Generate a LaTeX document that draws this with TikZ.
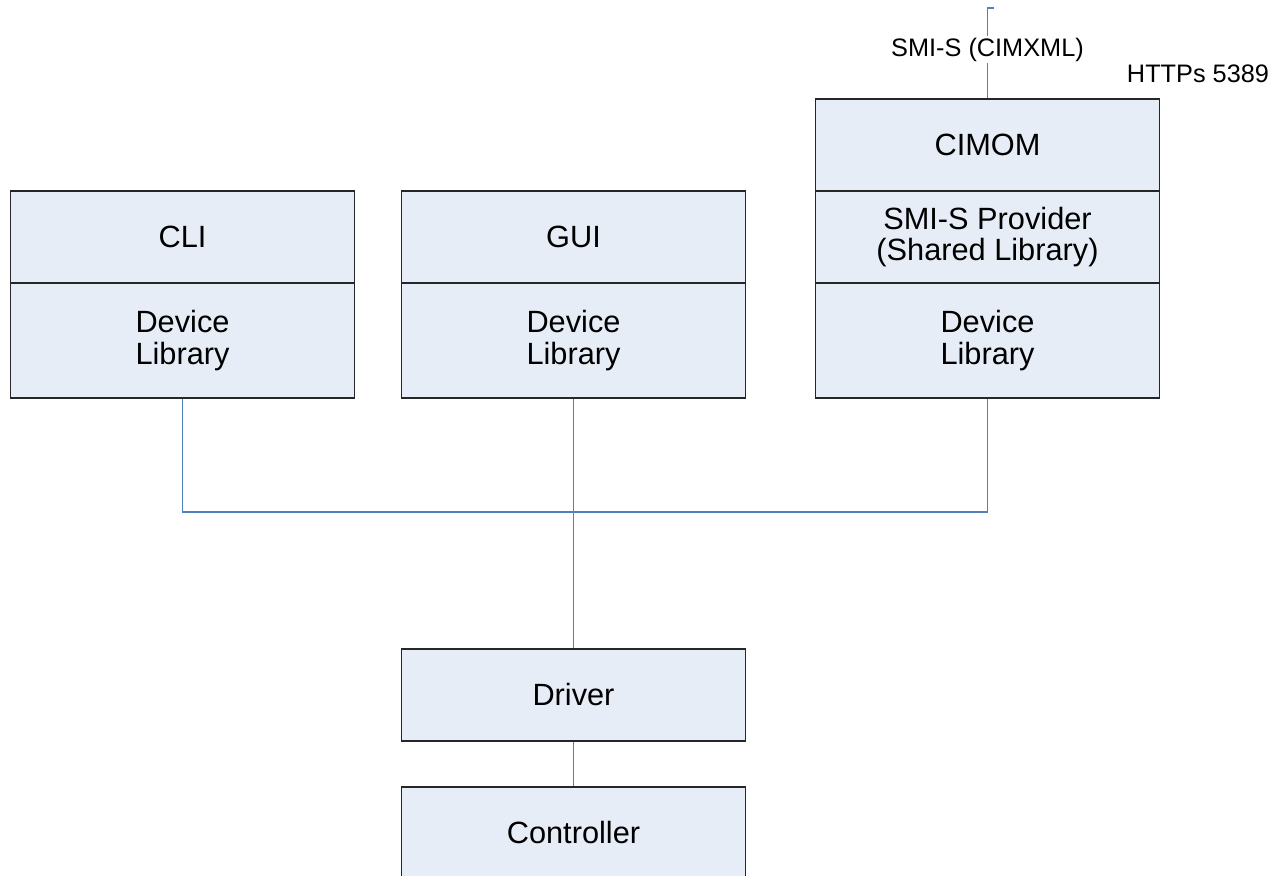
\documentclass[tikz,border=0pt]{standalone}
\usepackage{fontspec}
\setmainfont{Liberation Sans}
\definecolor{boxfill}{HTML}{E7EDF7}
\definecolor{linkblue}{HTML}{4F81BD}
\tikzset{
    part/.style={draw=black!85, fill=boxfill, line width=0.6pt, minimum width=6.9cm,
                 align=center, font=\fontsize{17.5}{17.8}\selectfont, inner sep=0pt},
    link/.style={draw=linkblue, line width=0.6pt},
    tag/.style={font=\fontsize{14.4}{16}\selectfont, inner sep=1pt}
}
\begin{document}
\begin{tikzpicture}[x=0.02cm, y=-0.02cm]
    \useasboundingbox (0,0) rectangle (1276,876);

    \node[part, minimum height=1.84cm] (cli)      at (182.5,237)   {CLI};
    \node[part, minimum height=2.3cm]  (clilib)   at (182.5,340.5) {Device\\Library};

    \node[part, minimum height=1.84cm] (gui)      at (573.5,237)   {GUI};
    \node[part, minimum height=2.3cm]  (guilib)   at (573.5,340.5) {Device\\Library};

    \node[part, minimum height=1.84cm] (cimom)    at (987.5,145)   {CIMOM};
    \node[part, minimum height=1.84cm] (provider) at (987.5,237)   {SMI-S Provider\\(Shared Library)};
    \node[part, minimum height=2.3cm]  (cimomlib) at (987.5,340.5) {Device\\Library};

    \node[part, minimum height=1.84cm] (driver)     at (573.5,695) {Driver};
    \node[part, minimum height=1.84cm] (controller) at (573.5,833) {Controller};

    \coordinate (bus) at (573.5,512);
    \coordinate (wan) at (987.5,8);

    \draw [link] (clilib.south) |- (bus) -| (cimomlib.south);
    \draw [link] (guilib.south) -- (driver.north);
    \draw [link] (driver.south) -- (controller.north);
    \draw [link] (cimom.north) -- node[tag, fill=white, pos=0.54] (smis) {SMI-S (CIMXML)} (wan) -- ++(6,0);

    \node[tag] (https) at (1198,74) {HTTPs 5389};
\end{tikzpicture}
\end{document}
